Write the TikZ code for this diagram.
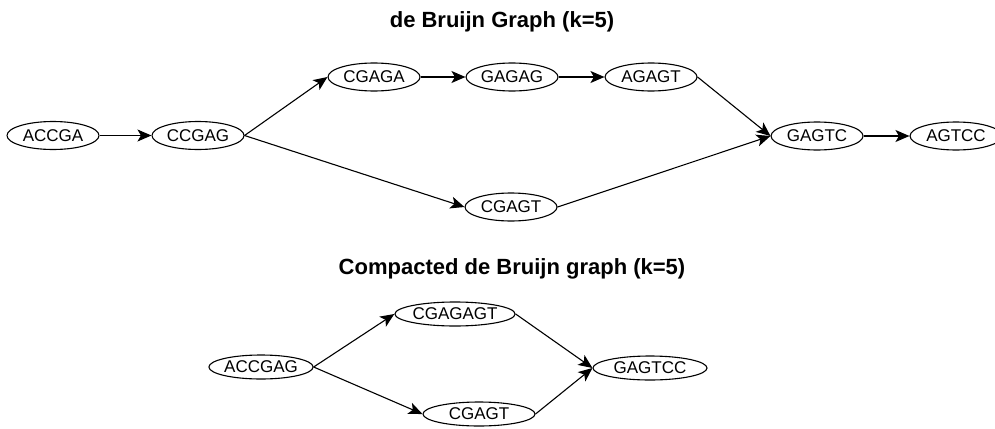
\documentclass[tikz,border=0pt]{standalone}
\usepackage{fontspec}
\setmainfont{Liberation Sans}
\usetikzlibrary{shapes.geometric,arrows.meta}
\begin{document}
\begin{tikzpicture}[x=1pt,y=-1pt,
  kmer/.style={ellipse,draw,line width=1.1pt,inner sep=0pt,minimum width=92pt,minimum height=28pt,font=\fontsize{17}{20}\selectfont},
  ckmer/.style={ellipse,draw,line width=1.1pt,inner sep=0pt,minimum height=24pt,font=\fontsize{17}{20}\selectfont},
  ttl/.style={font=\fontsize{22}{26}\selectfont\bfseries,inner sep=0pt},
  edge/.style={line width=1.1pt,-{Stealth[length=14pt,width=12pt,inset=3.5pt]}}]
\useasboundingbox (0,0) rectangle (995,428);
\node[ttl] (t1) at (502,22) {de Bruijn Graph (k=5)};
\node[ttl] (t2) at (512,269) {Compacted de Bruijn graph (k=5)};
% top graph
\node[kmer] (n1) at (53,135.5) {ACCGA};
\node[kmer] (n2) at (198,135.5) {CCGAG};
\node[kmer] (n3) at (374,77) {CGAGA};
\node[kmer] (n4) at (512,77) {GAGAG};
\node[kmer] (n5) at (651,77) {AGAGT};
\node[kmer] (n6) at (817,136) {GAGTC};
\node[kmer] (n7) at (956,136) {AGTCC};
\node[kmer] (n8) at (511,207) {CGAGT};
\draw[edge] (n1.east) -- (n2.west);
\draw[edge] (n2.east) -- (n3.west);
\draw[edge] (n2.east) -- (n8.west);
\draw[edge] (n3.east) -- (n4.west);
\draw[edge] (n4.east) -- (n5.west);
\draw[edge] (n5.east) -- (n6.west);
\draw[edge] (n8.east) -- (n6.west);
\draw[edge] (n6.east) -- (n7.west);
% compacted graph
\node[ckmer,minimum width=99pt] (c1) at (261,367) {ACCGAG};
\node[ckmer,minimum width=115pt] (c2) at (455,314) {CGAGAGT};
\node[ckmer,minimum width=114pt] (c3) at (650,368) {GAGTCC};
\node[ckmer,minimum width=112pt] (c4) at (479,414) {CGAGT};
\draw[edge] (c1.east) -- (c2.west);
\draw[edge] (c1.east) -- (c4.west);
\draw[edge] (c2.east) -- (c3.west);
\draw[edge] (c4.east) -- (c3.west);
\end{tikzpicture}
\end{document}
